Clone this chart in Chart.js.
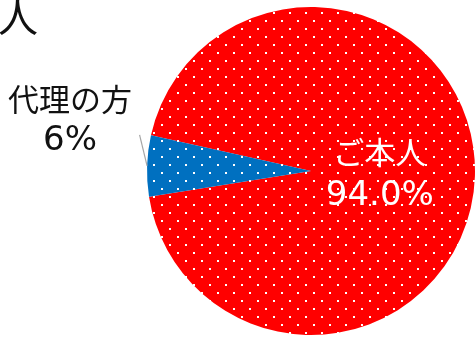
<!DOCTYPE html>
<html>
<head>
<meta charset="utf-8">
<script src="https://cdn.jsdelivr.net/npm/chart.js@4/dist/chart.umd.min.js"></script>
<style>
  html, body { margin: 0; padding: 0; background: #ffffff; }
  #wrap { width: 476px; height: 337px; position: relative; overflow: hidden; }
  canvas { display: block; }
</style>
</head>
<body>
<div id="wrap"><canvas id="chart" width="476" height="337"></canvas></div>
<script>
// Respondent breakdown
const categories = ['ご本人', '代理の方'];
const shares = [94.0, 6.0];
const shareDecimals = [1, 0];
const sliceColors = ['#FF0000', '#0070C0'];
const titleTail = '人';

const canvas = document.getElementById('chart');
const ctx2d = canvas.getContext('2d');

// Solid fill sprinkled with small white dots on a staggered 16px grid
function dottedFill(color) {
  const tile = document.createElement('canvas');
  tile.width = 16; tile.height = 16;
  const g = tile.getContext('2d');
  g.fillStyle = color;
  g.fillRect(0, 0, 16, 16);
  g.fillStyle = '#ffffff';
  g.fillRect(1, 12, 2, 2);
  g.fillRect(9, 4, 2, 2);
  return ctx2d.createPattern(tile, 'repeat');
}

const fmt = (i) => shares[i].toFixed(shareDecimals[i]) + '%';
const CJK = '"Noto Sans CJK JP", "Noto Sans", sans-serif';
const NUM = '"DejaVu Sans", sans-serif';

const labelPlugin = {
  id: 'sliceLabels',
  afterDatasetsDraw(chart) {
    const ctx = chart.ctx;
    const arcs = chart.getDatasetMeta(0).data;
    ctx.save();
    ctx.textAlign = 'center';
    ctx.textBaseline = 'middle';

    // Label inside the large slice
    const a = arcs[0].getProps(['x', 'y', 'startAngle', 'endAngle', 'outerRadius'], true);
    const midA = (a.startAngle + a.endAngle) / 2;
    const ix = a.x + Math.cos(midA) * a.outerRadius * 0.42;
    const iy = a.y + Math.sin(midA) * a.outerRadius * 0.42;
    ctx.fillStyle = '#ffffff';
    ctx.font = '31px ' + CJK;
    ctx.fillText(categories[0], ix, iy - 21);
    ctx.font = '34px ' + NUM;
    ctx.fillText(fmt(0), ix, iy + 23);

    // Label outside the small slice, joined by a leader line
    const b = arcs[1].getProps(['x', 'y', 'startAngle', 'endAngle', 'outerRadius'], true);
    const midB = (b.startAngle + b.endAngle) / 2;
    const ox = b.x + Math.cos(midB) * b.outerRadius;
    const oy = b.y + Math.sin(midB) * b.outerRadius;
    ctx.strokeStyle = '#a6a6a6';
    ctx.lineWidth = 1.2;
    ctx.beginPath();
    ctx.moveTo(ox - 7.5, oy - 31);
    ctx.lineTo(ox, oy);
    ctx.stroke();
    ctx.fillStyle = '#111111';
    ctx.font = '31px ' + CJK;
    ctx.fillText(categories[1], ox - 77, oy - 67);
    ctx.font = '34px ' + NUM;
    ctx.fillText(fmt(1), ox - 77, oy - 25);

    // Heading (runs off the left edge)
    ctx.textAlign = 'right';
    ctx.textBaseline = 'alphabetic';
    ctx.font = '40px ' + CJK;
    ctx.fillText(titleTail, 38, 32);
    ctx.restore();
  }
};

new Chart(canvas, {
  type: 'pie',
  data: {
    labels: categories,
    datasets: [{
      data: shares,
      backgroundColor: sliceColors.map(dottedFill),
      borderWidth: 0
    }]
  },
  options: {
    responsive: false,
    animation: false,
    devicePixelRatio: 1,
    rotation: 282.6,
    layout: { padding: { left: 147, right: 1, top: 7, bottom: 2 } },
    plugins: {
      legend: { display: false },
      tooltip: { enabled: false },
      title: { display: false }
    }
  },
  plugins: [labelPlugin]
});
</script>
</body>
</html>
